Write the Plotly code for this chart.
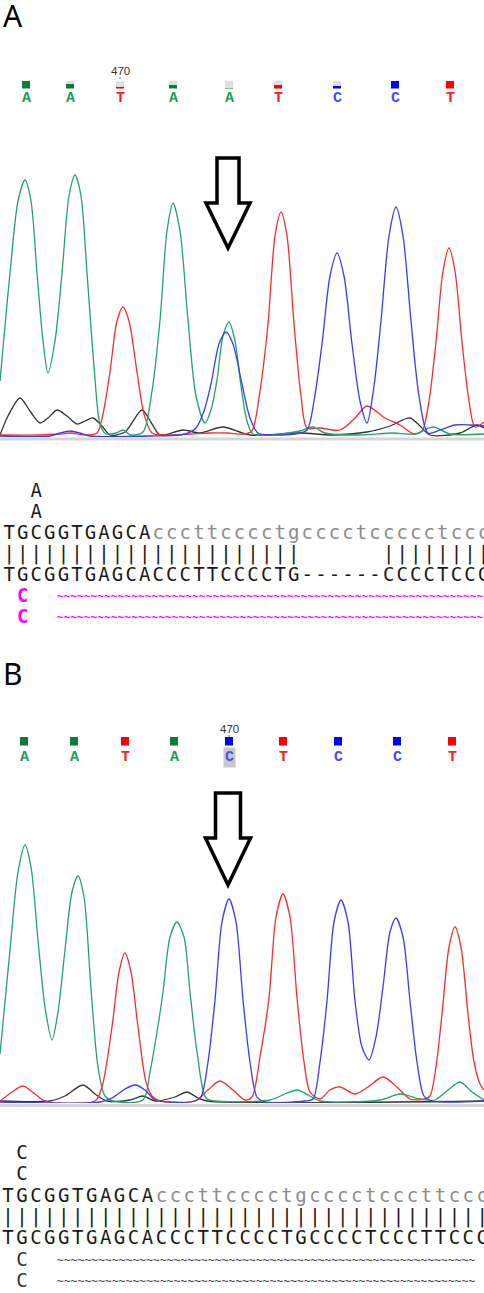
import plotly.graph_objects as go

# ---- panel A: base calls (scan position, call, quality 0-1) ----
A_CALL_X = [26, 70, 120, 173, 229, 278, 337, 395, 450]
A_CALLS = ["A", "A", "T", "A", "A", "T", "C", "C", "T"]
A_QUAL = [1.0, 0.6, 0.3, 0.55, 0.15, 0.55, 0.4, 1.0, 1.0]

# ---- panel B: base calls ----
B_CALL_X = [24, 74, 125, 174, 229, 283, 338, 397, 452]
B_CALLS = ["A", "A", "T", "A", "C", "T", "C", "C", "T"]
B_QUAL = [1.0, 1.0, 1.0, 1.0, 1.0, 1.0, 1.0, 1.0, 1.0]

# ---- panel A trace channels (scan, signal) ----
A_G_X = [0, 5, 10, 18, 25, 31, 37, 43, 48, 55, 62, 69, 75, 81, 87, 94, 100, 106, 116, 123, 131, 143, 152, 160, 167, 173, 180, 188, 196, 205, 211, 217, 223, 229, 235, 241, 247, 253, 280, 300, 313, 325, 360, 393, 415, 433, 450, 484]
A_G_Y = [55, 110, 163, 235, 256, 235, 163, 95, 63, 95, 163, 240, 261, 240, 163, 70, 12, 2, 3, 6, 1, 4, 45, 116, 205, 233, 205, 116, 40, 13, 26, 56, 100, 114, 95, 50, 15, 2, 2, 5, 9, 3, 1, 3, 2, 9, 2, 2]
A_R_X = [0, 40, 60, 70, 85, 97, 103, 110, 117, 123, 129, 137, 144, 152, 165, 190, 210, 227, 245, 252, 260, 268, 275, 281, 287, 294, 301, 307, 320, 340, 355, 367, 385, 400, 414, 422, 429, 436, 443, 449, 455, 462, 469, 475, 484]
A_R_Y = [1, 1, 2, 3, 1, 3, 22, 64, 115, 129, 115, 64, 22, 3, 1, 2, 3, 3, 2, 5, 45, 112, 200, 224, 200, 112, 40, 8, 8, 6, 18, 30, 18, 11, 2, 5, 35, 94, 165, 188, 165, 94, 35, 9, 14]
A_B_X = [0, 50, 60, 70, 80, 90, 150, 185, 196, 204, 211, 219, 226, 233, 242, 250, 258, 270, 295, 307, 314, 322, 330, 337, 344, 352, 360, 367, 374, 381, 389, 396, 403, 411, 419, 428, 440, 455, 470, 484]
A_B_Y = [0, 0, 3, 5, 3, 0, 0, 2, 8, 25, 52, 92, 104, 92, 52, 18, 3, 1, 2, 6, 35, 92, 160, 183, 160, 92, 35, 13, 50, 115, 200, 229, 200, 115, 40, 3, 6, 11, 11, 10]
A_K_X = [0, 8, 20, 30, 40, 48, 57, 67, 77, 85, 93, 102, 110, 125, 142, 152, 160, 183, 200, 223, 250, 300, 333, 367, 390, 410, 420, 430, 460, 477, 484]
A_K_Y = [1, 20, 38, 25, 13, 18, 26, 20, 12, 15, 18, 10, 1, 4, 26, 12, 1, 6, 3, 9, 1, 3, 1, 4, 10, 18, 10, 1, 3, 11, 8]

# ---- panel B trace channels ----
B_G_X = [0, 5, 10, 18, 25, 31, 38, 45, 52, 58, 65, 72, 78, 84, 91, 98, 105, 113, 143, 150, 157, 163, 170, 177, 184, 190, 197, 206, 215, 270, 285, 297, 310, 320, 380, 400, 420, 435, 448, 460, 472, 484]
B_G_Y = [48, 100, 152, 230, 257, 235, 162, 95, 62, 90, 152, 210, 226, 205, 113, 35, 6, 1, 2, 30, 70, 110, 165, 180, 165, 110, 50, 4, 1, 2, 8, 12, 6, 1, 2, 8, 3, 2, 12, 20, 10, 2]
B_R_X = [0, 12, 23, 35, 45, 95, 102, 112, 119, 125, 131, 138, 146, 152, 160, 195, 208, 220, 233, 245, 252, 260, 269, 276, 283, 290, 297, 304, 310, 320, 330, 340, 355, 368, 383, 398, 410, 425, 430, 436, 442, 449, 455, 461, 468, 474, 480, 484]
B_R_Y = [1, 10, 16, 8, 1, 1, 15, 75, 130, 149, 130, 75, 20, 6, 1, 1, 12, 21, 12, 2, 5, 45, 104, 185, 208, 185, 104, 40, 10, 3, 12, 15, 8, 15, 25, 14, 3, 3, 6, 35, 88, 155, 175, 155, 88, 40, 18, 12]
B_B_X = [0, 100, 112, 125, 135, 145, 155, 170, 195, 201, 208, 215, 222, 229, 236, 243, 250, 257, 265, 305, 313, 320, 327, 334, 341, 348, 355, 362, 369, 376, 383, 390, 396, 403, 410, 417, 424, 432, 484]
B_B_Y = [0, 0, 4, 13, 17, 12, 2, 0, 1, 5, 40, 102, 180, 203, 180, 102, 40, 5, 0, 1, 3, 40, 101, 180, 202, 180, 101, 55, 42, 65, 115, 170, 184, 165, 101, 40, 6, 1, 1]
B_K_X = [0, 50, 65, 83, 95, 107, 130, 143, 155, 175, 187, 198, 207, 484]
B_K_Y = [1, 1, 6, 17, 8, 1, 2, 6, 1, 5, 10, 4, 1, 1]

# ---- alignment rows ----
A_ALIGN = [
    "  A",
    "  A",
    "TGCGGTGAGCAcccttcccctgcccctccccctccc",
    "|" * 22 + " " * 6 + "|" * 8,
    "TGCGGTGAGCACCCTTCCCCTG------CCCCTCCC",
]
B_ALIGN = [
    " C",
    " C",
    "TGCGGTGAGCAcccttcccctgcccctcccttccc",
    "|" * 35,
    "TGCGGTGAGCACCCTTCCCCTGCCCCTCCCTTCCC",
]

GREEN, RED, BLUE, BLACK = "#22a36a", "#ff2a2a", "#3a3aff", "#333333"
CALL_COLORS = {"A": "#1a9e5a", "T": "#ff2020", "C": "#4848ff"}
SQ_COLORS = {"A": "#0b7d3b", "T": "#ff0000", "C": "#0000ff"}
H = 1293


def py(px):
    return 1 - px / H


fig = go.Figure()

# chromatograms
for xa, ya, chans in [
    ("x", "y", [(A_K_X, A_K_Y, BLACK), (A_R_X, A_R_Y, RED), (A_G_X, A_G_Y, GREEN), (A_B_X, A_B_Y, BLUE)]),
    ("x2", "y2", [(B_K_X, B_K_Y, BLACK), (B_R_X, B_R_Y, RED), (B_G_X, B_G_Y, GREEN), (B_B_X, B_B_Y, BLUE)]),
]:
    for cx, cy, col in chans:
        fig.add_trace(go.Scatter(x=cx, y=cy, mode="lines", xaxis=xa, yaxis=ya,
                                 line=dict(color=col, width=1.3, shape="spline", smoothing=0.8),
                                 hoverinfo="skip"))

# quality squares (colored part + grey remainder)
for xa, ya, xs, calls, q in [("x", "y3", A_CALL_X, A_CALLS, A_QUAL), ("x2", "y4", B_CALL_X, B_CALLS, B_QUAL)]:
    fig.add_trace(go.Bar(x=xs, y=q, width=8, xaxis=xa, yaxis=ya,
                         marker=dict(color=[SQ_COLORS[c] for c in calls], line_width=0)))
    fig.add_trace(go.Bar(x=xs, y=[1 - v for v in q], width=8, xaxis=xa, yaxis=ya,
                         marker=dict(color="#dedede", line_width=0)))


# alignment text, one character per column
def add_rows(rows, xa, ya):
    for r, row in enumerate(rows):
        cols = [i for i, ch in enumerate(row) if ch != " "]
        chars = [row[i] for i in cols]
        colors = ["#8c8c8c" if ch.islower() else "#1a1a1a" for ch in chars]
        fig.add_trace(go.Scatter(x=cols, y=[r] * len(cols), mode="text", text=chars,
                                 xaxis=xa, yaxis=ya, cliponaxis=False, hoverinfo="skip",
                                 textfont=dict(family="DejaVu Sans Mono", size=19, color=colors)))


add_rows(A_ALIGN, "x3", "y5")
add_rows(B_ALIGN, "x4", "y6")

# trailing rows under the alignment: a base and a wavy run from column 4 onward
for r in (5, 6):
    fig.add_trace(go.Scatter(x=[1], y=[r], mode="text", text=["C"], xaxis="x3", yaxis="y5",
                             cliponaxis=False, hoverinfo="skip",
                             textfont=dict(family="DejaVu Sans Mono", size=19, color="#ff00ff", weight="bold")))
    fig.add_trace(go.Scatter(x=[3.5], y=[r], mode="text", text=["~" * 63], textposition="middle right",
                             xaxis="x3", yaxis="y5", cliponaxis=False, hoverinfo="skip",
                             textfont=dict(family="DejaVu Sans Mono", size=11.25, color="#ff00ff", weight="bold")))
    fig.add_trace(go.Scatter(x=[1], y=[r], mode="text", text=["C"], xaxis="x4", yaxis="y6",
                             cliponaxis=False, hoverinfo="skip",
                             textfont=dict(family="DejaVu Sans Mono", size=19, color="#333333")))
    fig.add_trace(go.Scatter(x=[3.5], y=[r], mode="text", text=["~" * 61], textposition="middle right",
                             xaxis="x4", yaxis="y6", cliponaxis=False, hoverinfo="skip",
                             textfont=dict(family="DejaVu Sans Mono", size=11.4, color="#444444")))

annotations = []
shapes = []

# panel letters
for label, ypx in [("A", 15), ("B", 673)]:
    annotations.append(dict(text=label, x=0.002, y=py(ypx), xref="paper", yref="paper",
                            xanchor="left", yanchor="middle", showarrow=False,
                            font=dict(family="Noto Sans", size=30, color="black")))

# base-call letters
for xa, xs, calls, ypx in [("x", A_CALL_X, A_CALLS, 99), ("x2", B_CALL_X, B_CALLS, 757.5)]:
    for i, (xv, c) in enumerate(zip(xs, calls)):
        hl = xa == "x2" and i == 4
        annotations.append(dict(text=c, x=xv, y=py(ypx), xref=xa, yref="paper", showarrow=False,
                                xanchor="center", yanchor="middle",
                                bgcolor="#c8c8c8" if hl else None, borderpad=1,
                                font=dict(family="Liberation Mono", size=15, color=CALL_COLORS[c], weight="bold")))

# position label 470
for xa, xv, ypx in [("x", A_CALL_X[2], 71), ("x2", B_CALL_X[4], 729)]:
    annotations.append(dict(text="470", x=xv, y=py(ypx), xref=xa, yref="paper", showarrow=False,
                            xanchor="center", yanchor="middle",
                            font=dict(family="Liberation Sans", size=11.5, color="#333333")))
    shapes.append(dict(type="line", xref=xa, yref="paper", x0=xv, x1=xv,
                       y0=py(ypx + 6), y1=py(ypx + 8), line=dict(color="#777777", width=1)))

# grey rule under each trace
for ypx in (439, 1105.5):
    shapes.append(dict(type="line", xref="paper", yref="paper", x0=0, x1=1, y0=py(ypx), y1=py(ypx),
                       line=dict(color="#d6d6d6", width=3), layer="below"))

# hollow arrows over the variant position
for xa, ya, cx, tip, head, shaft, hw, sw in [("x", "y", A_CALL_X[4] - 1, 188, 45, 45, 22, 11),
                                              ("x2", "y2", B_CALL_X[4] - 1, 217, 47, 45, 22.5, 12.5)]:
    path = (f"M {cx - sw},{tip + head + shaft} L {cx + sw},{tip + head + shaft} "
            f"L {cx + sw},{tip + head} L {cx + hw},{tip + head} L {cx},{tip} "
            f"L {cx - hw},{tip + head} L {cx - sw},{tip + head} Z")
    shapes.append(dict(type="path", xref=xa, yref=ya, path=path,
                       line=dict(color="black", width=3.5), fillcolor="white"))

ax = dict(visible=False, showgrid=False, zeroline=False, fixedrange=True)
fig.update_layout(
    width=484, height=H,
    margin=dict(l=0, r=0, t=0, b=0),
    paper_bgcolor="white", plot_bgcolor="white",
    showlegend=False, barmode="stack", bargap=0,
    xaxis=dict(ax, domain=[0, 1], range=[0, 484], anchor="y"),
    yaxis=dict(ax, domain=[py(437), py(150)], range=[-1, 286], anchor="x"),
    xaxis2=dict(ax, domain=[0, 1], range=[0, 484], anchor="y2"),
    yaxis2=dict(ax, domain=[py(1103), py(790)], range=[-1, 312], anchor="x2"),
    yaxis3=dict(ax, domain=[py(88.5), py(80.5)], range=[0, 1], anchor="x"),
    yaxis4=dict(ax, domain=[py(745.5), py(737)], range=[0, 1], anchor="x2"),
    xaxis3=dict(ax, domain=[0, 1], range=[-0.679, 35.04], anchor="y5"),
    yaxis5=dict(ax, domain=[py(628.5), py(481.5)], range=[6.5, -0.5], anchor="x3"),
    xaxis4=dict(ax, domain=[0, 1], range=[-0.5735, 34.122], anchor="y6"),
    yaxis6=dict(ax, domain=[py(1292.9), py(1143.5)], range=[6.5, -0.5], anchor="x4"),
    annotations=annotations,
    shapes=shapes,
)

# the page's default body margin would push the fixed-size figure off the window
fig.write_html("out.html", config={"displayModeBar": False},
               post_script="document.body.style.margin='0';document.body.style.overflow='hidden';")
